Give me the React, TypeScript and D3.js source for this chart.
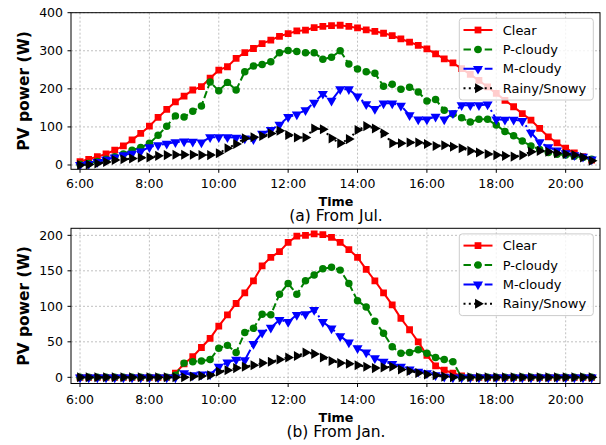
import React from "react";
import * as d3 from "d3";

// 15-minute slots from 6:00 to 20:45 (clock hours)
const slots = d3.range(60).map((i) => 6 + i * 0.25);
const hourTicks = [6, 8, 10, 12, 14, 16, 18, 20];

const seriesNames = ["Clear", "P-cloudy", "M-cloudy", "Rainy/Snowy"];

// (a) July — one row per 2 hours
const julClear = [
  9, 15, 22, 29, 39, 50, 66, 83,
  102, 125, 146, 166, 181, 197, 206, 228,
  249, 258, 280, 295, 306, 319, 328, 338,
  345, 352, 354, 361, 364, 366, 367, 364,
  360, 355, 351, 346, 340, 331, 323, 314,
  305, 292, 279, 268, 253, 238, 222, 205,
  188, 170, 153, 135, 118, 96, 74, 58,
  44, 32, 22, 13,
];
const julPCloudy = [
  2, 4, 9, 15, 22, 29, 39, 46,
  57, 78, 102, 129, 126, 141, 155, 218,
  195, 217, 197, 245, 260, 264, 271, 295,
  301, 298, 295, 295, 278, 283, 300, 265,
  252, 245, 241, 207, 212, 199, 204, 192,
  168, 172, 144, 134, 124, 113, 120, 120,
  105, 88, 77, 63, 50, 41, 33, 28,
  26, 23, 20, 15,
];
const julMCloudy = [
  0, 3, 8, 14, 20, 26, 30, 36,
  47, 52, 56, 60, 62, 61, 59, 73,
  73, 73, 72, 70, 68, 82, 92, 106,
  126, 133, 144, 164, 187, 169, 199, 199,
  180, 160, 147, 162, 162, 156, 131, 120,
  120, 127, 120, 136, 157, 157, 157, 159,
  120, 119, 119, 116, 85, 60, 47, 38,
  31, 26, 22, 15,
];
const julRainy = [
  0, 1, 4, 8, 13, 15, 17, 19,
  20, 24, 26, 27, 27, 27, 26, 26,
  31, 44, 55, 70, 73, 76, 83, 90,
  79, 72, 72, 96, 94, 70, 57, 68,
  92, 102, 96, 83, 57, 57, 59, 59,
  55, 50, 52, 48, 44, 37, 33, 29,
  26, 24, 22, 26, 35, 37, 35, 31,
  29, 26, 20, 11,
];

// (b) January
const janClear = [
  0, 0, 0, 0, 0, 0, 0, 0,
  0, 0, 0, 6, 19, 29, 42, 55,
  72, 88, 104, 119, 136, 157, 169, 177,
  190, 199, 200, 202, 201, 197, 190, 180,
  169, 152, 136, 119, 102, 83, 67, 50,
  31, 16, 10, 6, 2, 0, 0, 0,
  0, 0, 0, 0, 0, 0, 0, 0,
  0, 0, 0, 0,
];
const janPCloudy = [
  0, 0, 0, 0, 0, 0, 0, 0,
  0, 0, 0, 3, 20, 22, 23, 25,
  41, 45, 35, 63, 69, 89, 88, 117,
  132, 117, 136, 144, 153, 155, 151, 132,
  108, 99, 79, 62, 43, 34, 35, 39,
  34, 28, 25, 22, 0, 0, 0, 0,
  0, 0, 0, 0, 0, 0, 0, 0,
  0, 0, 0, 0,
];
const janMCloudy = [
  0, 0, 0, 0, 0, 0, 0, 0,
  0, 0, 0, 0, 6, 3, 4, 4,
  15, 21, 25, 24, 47, 63, 70, 81,
  78, 88, 89, 95, 78, 69, 58, 49,
  41, 35, 27, 22, 19, 15, 11, 8,
  6, 3, 1, 0, 0, 0, 0, 0,
  0, 0, 0, 0, 0, 0, 0, 0,
  0, 0, 0, 0,
];
const janRainy = [
  0, 0, 0, 0, 0, 0, 0, 0,
  0, 0, 0, 0, 0, 1, 2, 3,
  8, 10, 13, 15, 17, 20, 22, 25,
  28, 30, 35, 33, 28, 23, 20, 19,
  17, 15, 13, 14, 15, 11, 9, 6,
  4, 3, 1, 0, 0, 0, 0, 0,
  0, 0, 0, 0, 0, 0, 0, 0,
  0, 0, 0, 0,
];

const julTicks = [0, 100, 200, 300, 400];
const janTicks = [0, 50, 100, 150, 200];

const colors = ["#ff0000", "#008000", "#0000ff", "#000000"];
const dashes = [undefined, "7.4,3.2", "12.8,3.2,2,3.2", "2,3.3"];
const FONT = "DejaVu Sans, sans-serif";

const left = 71;
const right = 600;
const x = d3.scaleLinear().domain([5.74, 20.99]).range([left, right]);

const fmtHour = (h: number) => `${h}:00`;

function markerPath(k: number) {
  if (k === 0) return d3.symbol().type(d3.symbolSquare).size(46)()!;
  if (k === 1) return d3.symbol().type(d3.symbolCircle).size(44)()!;
  return d3.symbol().type(d3.symbolTriangle).size(44)()!;
}
const markerRot = [0, 0, 180, 90];

function Marker({ k, cx, cy }: { k: number; cx: number; cy: number }) {
  return (
    <path
      d={markerPath(k)}
      fill={colors[k]}
      transform={`translate(${cx},${cy}) rotate(${markerRot[k]})`}
    />
  );
}

function Panel({ id, top, bottom, domain, ticks, series, caption, ylabelY, tickY, timeY, capY }: any) {
  const y = d3.scaleLinear().domain(domain).range([bottom, top]);
  const line = d3
    .line<number>()
    .x((_, i) => x(slots[i]))
    .y((d) => y(d));
  const legTop = top + 5.6;
  const rowY = (i: number) => legTop + 11.7 + i * 19.4;

  return (
    <g>
      <clipPath id={id}>
        <rect x={left} y={top} width={right - left} height={bottom - top} />
      </clipPath>
      {/* grid */}
      {hourTicks.map((h) => (
        <line key={"gx" + h} x1={x(h)} x2={x(h)} y1={top} y2={bottom} stroke="#b0b0b0" strokeWidth={0.8} strokeDasharray="2,2" />
      ))}
      {ticks.map((t: number) => (
        <line key={"gy" + t} x1={left} x2={right} y1={y(t)} y2={y(t)} stroke="#b0b0b0" strokeWidth={0.8} strokeDasharray="2,2" />
      ))}
      {/* series */}
      <g clipPath={`url(#${id})`}>
        {series.map((s: number[], k: number) => (
          <g key={k}>
            <path d={line(s)!} fill="none" stroke={colors[k]} strokeWidth={2} strokeDasharray={dashes[k]} />
            {s.map((v, i) => (
              <Marker key={i} k={k} cx={x(slots[i])} cy={y(v)} />
            ))}
          </g>
        ))}
      </g>
      {/* frame */}
      <rect x={left} y={top} width={right - left} height={bottom - top} fill="none" stroke="#000" strokeWidth={1} />
      {/* x ticks */}
      {hourTicks.map((h) => (
        <g key={"tx" + h}>
          <line x1={x(h)} x2={x(h)} y1={bottom} y2={bottom + 3.5} stroke="#000" />
          <text x={x(h)} y={tickY} textAnchor="middle" fontSize={12.5} fontFamily={FONT}>
            {fmtHour(h)}
          </text>
        </g>
      ))}
      {/* y ticks */}
      {ticks.map((t: number) => (
        <g key={"ty" + t}>
          <line x1={left - 3.5} x2={left} y1={y(t)} y2={y(t)} stroke="#000" />
          <text x={left - 8} y={y(t)} dy="0.36em" textAnchor="end" fontSize={12.5} fontFamily={FONT}>
            {t}
          </text>
        </g>
      ))}
      <text
        transform={`translate(29,${ylabelY}) rotate(-90)`}
        textAnchor="middle"
        fontSize={15.5}
        fontWeight="bold"
        fontFamily={FONT}
      >
        PV power (W)
      </text>
      <text x={336} y={timeY} textAnchor="middle" fontSize={12.7} fontWeight="bold" fontFamily={FONT}>
        Time
      </text>
      <text x={336} y={capY} textAnchor="middle" fontSize={15.5} fontFamily={FONT}>
        {caption}
      </text>
      {/* legend */}
      <rect x={459.3} y={legTop} width={134} height={81.7} rx={3} fill="#fff" fillOpacity={0.8} stroke="#cccccc" strokeWidth={1} />
      {seriesNames.map((name, k) => (
        <g key={name}>
          <line x1={463.5} x2={492.5} y1={rowY(k)} y2={rowY(k)} stroke={colors[k]} strokeWidth={2} strokeDasharray={dashes[k]} />
          <Marker k={k} cx={478} cy={rowY(k)} />
          <text x={502.7} y={rowY(k)} dy="0.36em" fontSize={13} fontFamily={FONT}>
            {name}
          </text>
        </g>
      ))}
    </g>
  );
}

export default function App() {
  return (
    <svg
      width={606}
      height={445}
      style={{ position: "absolute", left: 0, top: 0, background: "#fff" }}
    >
      <Panel
        id="clipJul"
        top={12.7}
        bottom={169.3}
        domain={[-11.3, 400]}
        ticks={julTicks}
        series={[julClear, julPCloudy, julMCloudy, julRainy]}
        caption="(a) From Jul."
        ylabelY={91}
        tickY={188}
        timeY={205.5}
        capY={221}
      />
      <Panel
        id="clipJan"
        top={228.3}
        bottom={383.5}
        domain={[-8.7, 209.9]}
        ticks={janTicks}
        series={[janClear, janPCloudy, janMCloudy, janRainy]}
        caption="(b) From Jan."
        ylabelY={306}
        tickY={403.5}
        timeY={421.5}
        capY={437}
      />
    </svg>
  );
}
